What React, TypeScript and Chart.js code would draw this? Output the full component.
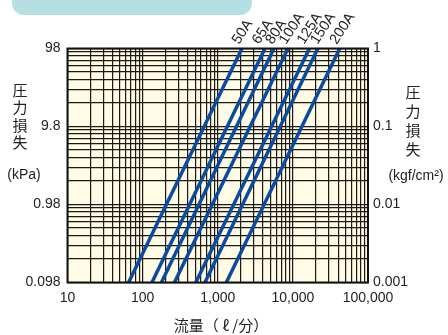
import React, { useEffect, useRef } from "react";
import { Chart, registerables } from "chart.js";

Chart.register(...registerables);

// Pipe sizes and their flow (ℓ/min) at the bottom (0.098 kPa) and top (98 kPa) of the chart
const sizes = ["50A", "65A", "80A", "100A", "125A", "150A", "200A"];
const flowAtMinLoss = [65, 133, 178, 265, 510, 675, 1300];
const flowAtMaxLoss = [2100, 4250, 5600, 8600, 16600, 21500, 42000];
const lossRange = [0.098, 98]; // kPa

const flowTicks = [10, 100, 1000, 10000, 100000];
const flowTickLabels = ["10", "100", "1,000", "10,000", "100,000"];
const kPaTicks = [0.098, 0.98, 9.8, 98];
const kPaTickLabels = ["0.098", "0.98", "9.8", "98"];
const kgfTicks = [0.001, 0.01, 0.1, 1];
const kgfTickLabels = ["0.001", "0.01", "0.1", "1"];
const minorSteps = [1, 2, 3, 4, 5, 6, 7, 8, 9];

const FONT = "'Liberation Sans', Arial, 'Noto Sans CJK JP', sans-serif";
const CJK = "'Noto Sans CJK JP', 'Liberation Sans', sans-serif";
const LINE_BLUE = "#0a4b9e";
const GRID = "#1c1915";

function minorTicks(decades: number[]) {
  const out: { value: number }[] = [];
  decades.forEach((d) => {
    minorSteps.forEach((k) => out.push({ value: d * k }));
  });
  return out;
}

function labelFor(v: number, vals: number[], labels: string[]) {
  for (let i = 0; i < vals.length; i++) {
    if (Math.abs(v - vals[i]) / vals[i] < 1e-6) return labels[i];
  }
  return "";
}

// spread label anchor positions so neighbours keep a minimum gap
function spread(xs: number[], gap: number) {
  const p = xs.slice();
  for (let iter = 0; iter < 50; iter++) {
    for (let i = 1; i < p.length; i++) {
      const d = p[i] - p[i - 1];
      if (d < gap) {
        const m = (gap - d) / 2;
        p[i - 1] -= m;
        p[i] += m;
      }
    }
  }
  return p;
}

const decorPlugin = {
  id: "decor",
  beforeDraw(chart: any) {
    const { ctx, chartArea } = chart;
    ctx.save();
    ctx.fillStyle = "#b5dfe3";
    ctx.beginPath();
    (ctx as any).roundRect(12, -20, 240, 35, 12);
    ctx.fill();
    ctx.fillStyle = "#fffbe4";
    ctx.fillRect(chartArea.left, chartArea.top, chartArea.right - chartArea.left, chartArea.bottom - chartArea.top);
    ctx.restore();
  },
  afterDraw(chart: any) {
    const { ctx, chartArea, scales } = chart;
    ctx.save();
    ctx.strokeStyle = "#111";
    ctx.lineWidth = 2;
    ctx.strokeRect(chartArea.left, chartArea.top, chartArea.right - chartArea.left, chartArea.bottom - chartArea.top);

    // pipe size labels at the top end of each line
    ctx.fillStyle = "#222";
    ctx.font = `14.5px ${FONT}`;
    ctx.textAlign = "left";
    ctx.textBaseline = "alphabetic";
    const py = scales.y.getPixelForValue(lossRange[1]);
    const anchors = spread(
      flowAtMaxLoss.map((f) => scales.x.getPixelForValue(f) - 3),
      13.5
    );
    sizes.forEach((s, i) => {
      ctx.save();
      ctx.translate(anchors[i], py - 3.5);
      ctx.rotate((-57 * Math.PI) / 180);
      ctx.fillText(s, 0, 0);
      ctx.restore();
    });

    // axis titles
    ctx.fillStyle = "#222";
    ctx.textAlign = "center";
    ctx.textBaseline = "middle";
    ctx.font = `15px ${CJK}`;
    const title = ["圧", "力", "損", "失"];
    title.forEach((c, i) => ctx.fillText(c, 20, 90 + i * 17.5));
    title.forEach((c, i) => ctx.fillText(c, 413, 92 + i * 19));
    ctx.font = `14px ${FONT}`;
    ctx.fillText("(kPa)", 24, 175);
    ctx.fillText("(kgf/cm²)", 416, 176);
    ctx.font = `15px ${CJK}`;
    ctx.fillText("流量（ ℓ /分）", 221, 325);
    ctx.restore();
  },
};

export default function App() {
  const ref = useRef<HTMLCanvasElement>(null);
  useEffect(() => {
    if (!ref.current) return;
    const datasets = sizes.map((s, i) => ({
      label: s,
      data: [
        { x: flowAtMinLoss[i], y: lossRange[0] },
        { x: flowAtMaxLoss[i], y: lossRange[1] },
      ],
      showLine: true,
      borderColor: LINE_BLUE,
      backgroundColor: LINE_BLUE,
      borderWidth: 3.5,
      pointRadius: 0,
      clip: 0,
      yAxisID: "y",
    }));
    const chart = new Chart(ref.current, {
      type: "scatter",
      data: { datasets },
      plugins: [decorPlugin],
      options: {
        animation: false,
        responsive: false,
        events: [],
        layout: { padding: { top: 48.5, left: 0, right: 0, bottom: 0 } },
        plugins: { legend: { display: false }, tooltip: { enabled: false } },
        scales: {
          x: {
            type: "logarithmic",
            min: flowTicks[0],
            max: flowTicks[flowTicks.length - 1],
            afterBuildTicks: (s: any) => {
              s.ticks = minorTicks(flowTicks.slice(0, -1)).concat([{ value: flowTicks[flowTicks.length - 1] }]);
            },
            afterFit: (s: any) => {
              s.height = 52.5;
            },
            grid: { color: GRID, lineWidth: 1.2, drawTicks: false },
            border: { display: false },
            ticks: {
              autoSkip: false,
              maxRotation: 0,
              padding: 7,
              color: "#222",
              font: { size: 14, family: FONT },
              callback: (v: any) => labelFor(Number(v), flowTicks, flowTickLabels),
            },
          },
          y: {
            type: "logarithmic",
            position: "left",
            min: kPaTicks[0],
            max: kPaTicks[kPaTicks.length - 1],
            afterBuildTicks: (s: any) => {
              s.ticks = minorTicks(kPaTicks.slice(0, -1)).concat([{ value: kPaTicks[kPaTicks.length - 1] }]);
            },
            afterFit: (s: any) => {
              s.width = 67.5;
            },
            grid: { color: GRID, lineWidth: 1.2, drawTicks: false },
            border: { display: false },
            ticks: {
              autoSkip: false,
              padding: 7,
              color: "#222",
              font: { size: 14, family: FONT },
              callback: (v: any) => labelFor(Number(v), kPaTicks, kPaTickLabels),
            },
          },
          y2: {
            type: "logarithmic",
            position: "right",
            min: kgfTicks[0],
            max: kgfTicks[kgfTicks.length - 1],
            afterBuildTicks: (s: any) => {
              s.ticks = kgfTicks.map((v) => ({ value: v }));
            },
            afterFit: (s: any) => {
              s.width = 80;
            },
            grid: { display: false, drawTicks: false },
            border: { display: false },
            ticks: {
              autoSkip: false,
              padding: 5,
              color: "#222",
              font: { size: 14, family: FONT },
              callback: (v: any) => labelFor(Number(v), kgfTicks, kgfTickLabels),
            },
          },
        },
      },
    } as any);
    return () => chart.destroy();
  }, []);
  return (
    <div style={{ position: "fixed", left: 0, top: 0, width: 448, height: 335, background: "#fff" }}>
      <canvas ref={ref} width={448} height={335} />
    </div>
  );
}
